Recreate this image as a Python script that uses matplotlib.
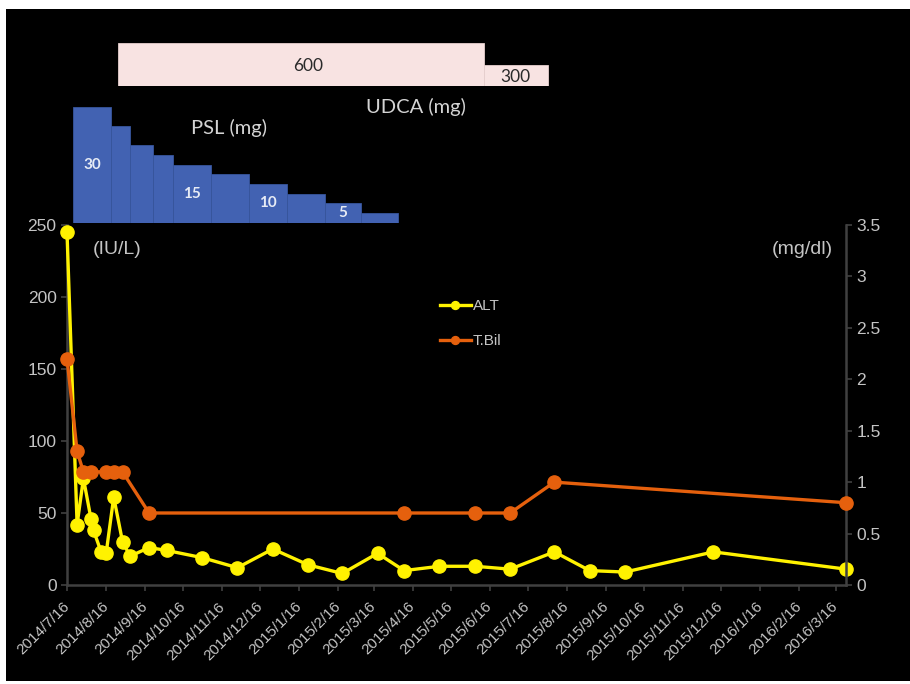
import matplotlib
matplotlib.use("Agg")
import matplotlib.pyplot as plt
from matplotlib.patches import Rectangle
from datetime import datetime, timedelta

# ---- data ----
tick_labels = ['2014/7/16', '2014/8/16', '2014/9/16', '2014/10/16', '2014/11/16',
               '2014/12/16', '2015/1/16', '2015/2/16', '2015/3/16', '2015/4/16',
               '2015/5/16', '2015/6/16', '2015/7/16', '2015/8/16', '2015/9/16',
               '2015/10/16', '2015/11/16', '2015/12/16', '2016/1/16', '2016/2/16',
               '2016/3/16']

alt_dates = ['2014/7/16', '2014/7/24', '2014/7/29', '2014/8/4', '2014/8/6',
             '2014/8/12', '2014/8/16', '2014/8/22', '2014/8/29', '2014/9/4',
             '2014/9/19', '2014/10/3', '2014/10/31', '2014/11/28', '2014/12/26',
             '2015/1/23', '2015/2/19', '2015/3/19', '2015/4/9', '2015/5/7',
             '2015/6/4', '2015/7/2', '2015/8/6', '2015/9/3', '2015/10/1',
             '2015/12/10', '2016/3/24']
alt_vals = [245, 42, 74, 46, 38, 23, 22, 61, 30, 20, 26, 24, 19, 12, 25,
            14, 8, 22, 10, 13, 13, 11, 23, 10, 9, 23, 11]

tbil_dates = ['2014/7/16', '2014/7/24', '2014/7/29', '2014/8/4', '2014/8/16',
              '2014/8/22', '2014/8/29', '2014/9/19', '2015/4/9', '2015/6/4',
              '2015/7/2', '2015/8/6', '2016/3/24']
tbil_vals = [2.2, 1.3, 1.1, 1.1, 1.1, 1.1, 1.1, 0.7, 0.7, 0.7, 0.7, 1.0, 0.8]

psl_edges = ['2014/7/21', '2014/8/20', '2014/9/4', '2014/9/22', '2014/10/8',
             '2014/11/7', '2014/12/7', '2015/1/6', '2015/2/5', '2015/3/6',
             '2015/4/4']
psl_dose = [30, 25, 20, 17.5, 15, 12.5, 10, 7.5, 5, 2.5]
psl_text = ['30', '', '', '', '15', '', '10', '', '5', '']

udca_edges = ['2014/8/25', '2015/6/11', '2015/8/1']
udca_dose = [600, 300]

x_start, x_end = '2014/7/16', '2016/3/24'


def d(s):
    return datetime.strptime(s, '%Y/%m/%d')


plt.rcParams['font.family'] = ['Liberation Sans', 'DejaVu Sans']
cal = ['Lato', 'DejaVu Sans']
grey = '#404040'
lab = '#c4c4c4'

W, H = 910, 684
fig = plt.figure(figsize=(W / 100, H / 100), dpi=100, facecolor='white')
fig.patches.append(Rectangle((6 / W, 3 / H), 904 / W, 672 / H, transform=fig.transFigure,
                             facecolor='black', edgecolor='none', zorder=-10))

ax = fig.add_axes([67 / W, 1 - 585 / H, (846 - 67) / W, (585 - 225) / H])
ax.set_facecolor('none')
ax2 = ax.twinx()

l1, = ax.plot([d(s) for s in alt_dates], alt_vals, color='#FFF200', lw=2.4,
              marker='o', ms=9.5, label='ALT', zorder=3, clip_on=False)
l2, = ax2.plot([d(s) for s in tbil_dates], tbil_vals, color='#E5600D', lw=2.4,
               marker='o', ms=9.5, label='T.Bil', zorder=3, clip_on=False)

for a in (ax, ax2):
    a.set_xlim(d(x_start), d(x_end))
    for sp in a.spines.values():
        sp.set_visible(False)

ax.set_ylim(0, 250)
ax.set_yticks([0, 50, 100, 150, 200, 250])
ax2.set_ylim(0, 3.5)
ax2.set_yticks([0, 0.5, 1, 1.5, 2, 2.5, 3, 3.5])
ax2.set_yticklabels(['0', '0.5', '1', '1.5', '2', '2.5', '3', '3.5'])

ax.spines['left'].set_visible(True)
ax.spines['bottom'].set_visible(True)
ax2.spines['right'].set_visible(True)
for sp in (ax.spines['left'], ax.spines['bottom'], ax2.spines['right']):
    sp.set_color(grey)
    sp.set_linewidth(1.8)

ax.set_xticks([d(s) for s in tick_labels])
ax.set_xticklabels(tick_labels, rotation=45, ha='right', va='center',
                   rotation_mode='anchor', fontsize=11, color=lab)
ax.tick_params(axis='x', colors=grey, length=4, width=1.2, pad=10, labelcolor=lab)
ax.tick_params(axis='y', colors=grey, length=4, width=1.2, labelsize=12.5, labelcolor=lab)
ax2.tick_params(axis='y', colors=grey, length=4, width=1.2, labelsize=12.5, labelcolor=lab)

ax.text(117 / W, 1 - 249 / H, '(IU/L)', transform=fig.transFigure, ha='center', va='center',
        fontsize=14, color=lab)
ax.text(802 / W, 1 - 250 / H, '(mg/dl)', transform=fig.transFigure, ha='center', va='center',
        fontsize=14, color=lab)

leg = ax2.legend(handles=[l1, l2], loc='upper left', bbox_to_anchor=(440 / W, 1 - 299 / H),
                 bbox_transform=fig.transFigure, frameon=False, borderpad=0, borderaxespad=0,
                 handlelength=2.0, handletextpad=0.15, labelspacing=1.4, markerscale=0.6,
                 prop={'size': 11})
for t in leg.get_texts():
    t.set_color(lab)

# PSL steps
axp = fig.add_axes([67 / W, 1 - 222.7 / H, (846 - 67) / W, 116 / H])
axp.set_xlim(d(x_start), d(x_end))
axp.set_ylim(0, 30)
axp.axis('off')
pe = [d(s) for s in psl_edges]
for i, v in enumerate(psl_dose):
    w = pe[i + 1] - pe[i]
    axp.bar(pe[i], v, width=w, align='edge', color='#4262B2', edgecolor='#37559c', linewidth=0.6)
    if psl_text[i]:
        axp.text(pe[i] + w / 2, v / 2, psl_text[i], ha='center', va='center',
                 fontsize=11, fontweight='bold', color='#e6ebf5', family=cal)

# UDCA steps
axu = fig.add_axes([67 / W, 1 - 86 / H, (846 - 67) / W, 42.7 / H])
axu.set_xlim(d(x_start), d(x_end))
axu.set_ylim(0, 600)
axu.axis('off')
ue = [d(s) for s in udca_edges]
for i, v in enumerate(udca_dose):
    w = ue[i + 1] - ue[i]
    axu.bar(ue[i], v, width=w, align='edge', color='#F8E3E2', edgecolor='#e6cfce', linewidth=0.6)
    axu.text(ue[i] + w / 2 + timedelta(days=6 if v == 600 else 0), v / 2 - 20, str(v),
             ha='center', va='center', fontsize=12.5, color='#2a2a2a', family=cal)

fig.text(228.6 / W, 1 - 128 / H, 'PSL (mg)', ha='center', va='center', fontsize=14.5,
         color='#d4d4d4', family=cal)
fig.text(416 / W, 1 - 106.7 / H, 'UDCA (mg)', ha='center', va='center', fontsize=14.5,
         color='#d4d4d4', family=cal)

fig.savefig('out.png', dpi=100, facecolor=fig.get_facecolor())
